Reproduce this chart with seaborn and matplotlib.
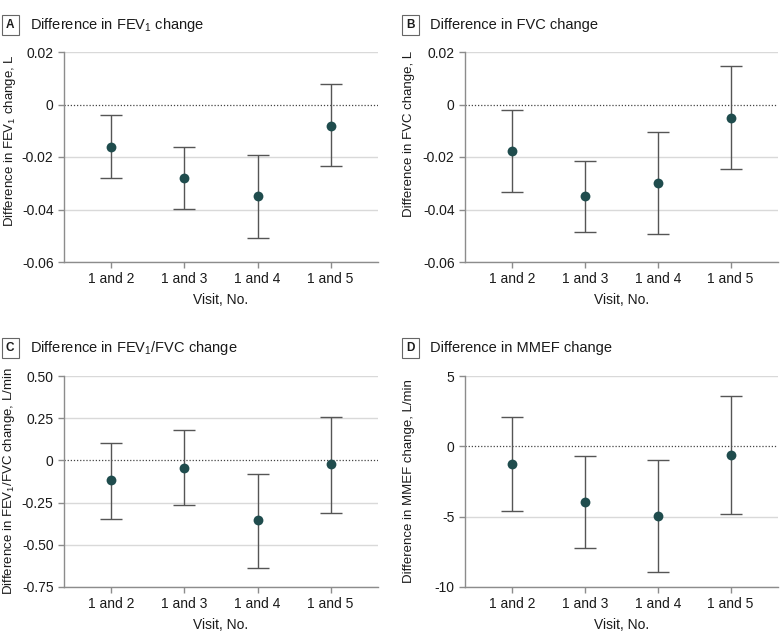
import matplotlib
matplotlib.use("Agg")
import matplotlib.pyplot as plt
import seaborn as sns
import pandas as pd

sns.set_theme(style="white")
plt.rcParams["font.family"] = ["Liberation Sans", "DejaVu Sans"]
plt.rcParams["mathtext.fontset"] = "custom"
plt.rcParams["mathtext.rm"] = "Liberation Sans"

visits = ["1 and 2", "1 and 3", "1 and 4", "1 and 5"]

# estimates and 95% CI bounds
fev1_est = [-0.016, -0.028, -0.035, -0.008]
fev1_lo = [-0.028, -0.0397, -0.0507, -0.0235]
fev1_hi = [-0.0041, -0.0163, -0.0194, 0.0077]

fvc_est = [-0.0178, -0.0349, -0.0299, -0.0051]
fvc_lo = [-0.0335, -0.0487, -0.0495, -0.0245]
fvc_hi = [-0.0021, -0.0215, -0.0104, 0.0148]

ratio_est = [-0.119, -0.044, -0.356, -0.024]
ratio_lo = [-0.345, -0.267, -0.637, -0.309]
ratio_hi = [0.106, 0.18, -0.078, 0.259]

mmef_est = [-1.27, -3.99, -4.95, -0.63]
mmef_lo = [-4.63, -7.24, -8.93, -4.83]
mmef_hi = [2.09, -0.7, -0.99, 3.59]

panels = [
    ("A", "Difference in FEV$_1$ change", "Difference in FEV$_1$ change, L",
     fev1_est, fev1_lo, fev1_hi, [0.02, 0, -0.02, -0.04, -0.06], ["0.02", "0", "-0.02", "-0.04", "-0.06"]),
    ("B", "Difference in FVC change", "Difference in FVC change, L",
     fvc_est, fvc_lo, fvc_hi, [0.02, 0, -0.02, -0.04, -0.06], ["0.02", "0", "-0.02", "-0.04", "-0.06"]),
    ("C", "Difference in FEV$_1$/FVC change", "Difference in FEV$_1$/FVC change, L/min",
     ratio_est, ratio_lo, ratio_hi, [0.5, 0.25, 0, -0.25, -0.5, -0.75],
     ["0.50", "0.25", "0", "-0.25", "-0.50", "-0.75"]),
    ("D", "Difference in MMEF change", "Difference in MMEF change, L/min",
     mmef_est, mmef_lo, mmef_hi, [5, 0, -5, -10], ["5", "0", "-5", "-10"]),
]

W, H = 783, 641
fig = plt.figure(figsize=(W / 100, H / 100), dpi=100)

# axes boxes in pixels: left, top, right, bottom
boxes = [(64, 52, 378, 262), (465, 52, 778, 262), (64, 376, 378, 587), (465, 376, 778, 587)]
# title row centre (px from top), letter box x, y-label offset (px) and centre (axes fraction)
title_y = [25, 25, 348, 348]
box_x = [6, 406, 6, 406]
ylab_off = [-46, -50, -47, -50]
ylab_frac = [0.58, 0.61, 0.5, 0.5]

point_color = "#1f4c4d"
err_color = "#555555"
spine_color = "#8c8c8c"
text_color = "#1a1a1a"

for i, ((letter, title, ylab, est, lo, hi, ticks, tlabels), (l, t, r, b)) in enumerate(zip(panels, boxes)):
    ax = fig.add_axes([l / W, 1 - b / H, (r - l) / W, (b - t) / H])
    df = pd.DataFrame({"visit": visits, "est": est, "lo": lo, "hi": hi})

    for tk in ticks:
        if tk == 0:
            ax.axhline(0, color="#444444", lw=0.9, ls=(0, (1, 1.5)), zorder=1)
        else:
            ax.axhline(tk, color="#d9d9d9", lw=1.0, zorder=0)

    ax.errorbar(df["visit"], df["est"],
                yerr=[df["est"] - df["lo"], df["hi"] - df["est"]],
                fmt="none", ecolor=err_color, elinewidth=1.0, capsize=8, capthick=1.0, zorder=2)
    sns.scatterplot(data=df, x="visit", y="est", ax=ax, color=point_color, s=50,
                    edgecolor=point_color, linewidth=0, zorder=3)

    ax.set_xlim(-0.65, 3.65)
    ax.set_ylim(ticks[-1], ticks[0])
    ax.set_yticks(ticks)
    ax.set_yticklabels(tlabels)
    ax.set_xlabel("Visit, No.", fontsize=10, labelpad=5, color=text_color)
    ax.set_ylabel(ylab, fontsize=9.5, color=text_color)
    ax.yaxis.set_label_coords(ylab_off[i] / (r - l), ylab_frac[i])

    for side in ["top", "right"]:
        ax.spines[side].set_visible(False)
    for side in ["left", "bottom"]:
        ax.spines[side].set_color(spine_color)
        ax.spines[side].set_linewidth(1.0)
    ax.tick_params(axis="both", labelsize=10, labelcolor=text_color, color=spine_color,
                   length=4, width=1.0, left=True, bottom=True)

    # panel letter box and title
    fy = 1 - title_y[i] / H
    fig.text(box_x[i] / W, fy, letter, fontsize=8.5, fontweight="bold", ha="left", va="center",
             color=text_color,
             bbox=dict(boxstyle="square,pad=0.35", fc="white", ec="#666666", lw=0.8))
    fig.text((box_x[i] + 24) / W, fy, title, fontsize=10.5, ha="left", va="center", color=text_color)

fig.savefig("out.png", dpi=100)
